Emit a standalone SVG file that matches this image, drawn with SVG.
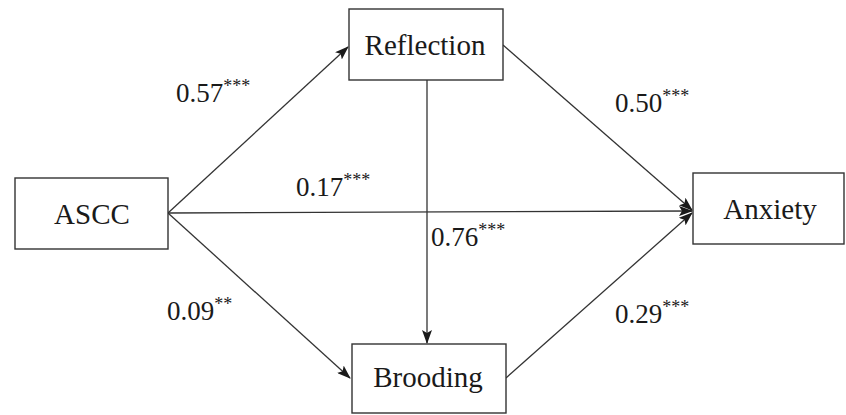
<svg xmlns="http://www.w3.org/2000/svg" width="846" height="415" viewBox="0 0 846 415">
<style>
.box{fill:#fff;stroke:#333;stroke-width:1.4}
.lbl{font-size:29px;fill:#1a1a1a;text-anchor:middle}
.coef{font-size:27px;fill:#1a1a1a}
.st{font-size:18px}
.edge{stroke:#333;stroke-width:1.3;fill:none;marker-end:url(#arr)}
</style>
<defs>
<marker id="arr" markerWidth="14" markerHeight="10" refX="13" refY="5" orient="auto" markerUnits="userSpaceOnUse">
<path d="M0,0 L14,5 L0,10 L3,5 Z" fill="#1a1a1a"/>
</marker>
</defs>
<rect width="846" height="415" fill="#fff"/>
<g id="connectors">
<line class="edge" x1="168" y1="213" x2="348" y2="47"/>
<line class="edge" x1="168" y1="213" x2="692" y2="211"/>
<line class="edge" x1="168" y1="213" x2="350" y2="378"/>
<line class="edge" x1="503" y1="45" x2="692" y2="210"/>
<line class="edge" x1="506" y1="378" x2="692" y2="213"/>
<line class="edge" x1="427" y1="80" x2="427" y2="343"/>
</g>
<g font-family="Liberation Serif, Times New Roman, serif">
<g id="ASCC"><rect class="box" x="15" y="178" width="153" height="71"/><text class="lbl" x="92" y="224">ASCC</text></g>
<g id="Reflection"><rect class="box" x="349" y="9" width="154" height="71"/><text class="lbl" x="425" y="55">Reflection</text></g>
<g id="Anxiety"><rect class="box" x="693" y="173" width="151" height="71"/><text class="lbl" x="770" y="219">Anxiety</text></g>
<g id="Brooding"><rect class="box" x="352" y="344" width="154" height="69"/><text class="lbl" x="428" y="387">Brooding</text></g>
<g id="labels">
<text class="coef" x="176" y="102">0.57<tspan class="st" dy="-10">***</tspan></text>
<text class="coef" x="296" y="196">0.17<tspan class="st" dy="-10">***</tspan></text>
<text class="coef" x="431" y="246">0.76<tspan class="st" dy="-10">***</tspan></text>
<text class="coef" x="167" y="320">0.09<tspan class="st" dy="-10">**</tspan></text>
<text class="coef" x="615" y="112">0.50<tspan class="st" dy="-10">***</tspan></text>
<text class="coef" x="615" y="323">0.29<tspan class="st" dy="-10">***</tspan></text>
</g>
</g>
</svg>
